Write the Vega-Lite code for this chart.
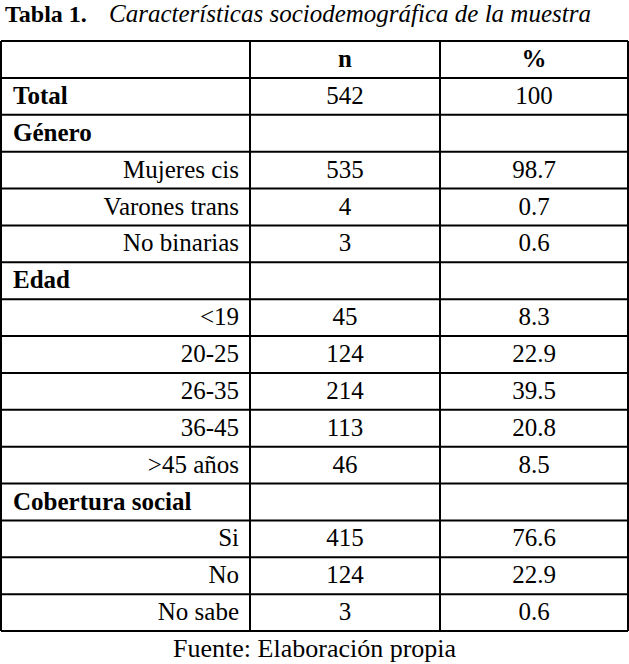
{
  "$schema": "https://vega.github.io/schema/vega-lite/v6.json",
  "description": "Tabla 1. Características sociodemográfica de la muestra",
  "width": 629,
  "height": 664,
  "autosize": {"type": "none"},
  "padding": 0,
  "background": "white",
  "datasets": {
    "filas": [
      {"orden": 1, "etiqueta": "Total", "tipo": "seccion", "n": "542", "pct": "100"},
      {"orden": 2, "etiqueta": "Género", "tipo": "seccion", "n": "", "pct": ""},
      {"orden": 3, "etiqueta": "Mujeres cis", "tipo": "item", "n": "535", "pct": "98.7"},
      {"orden": 4, "etiqueta": "Varones trans", "tipo": "item", "n": "4", "pct": "0.7"},
      {"orden": 5, "etiqueta": "No binarias", "tipo": "item", "n": "3", "pct": "0.6"},
      {"orden": 6, "etiqueta": "Edad", "tipo": "seccion", "n": "", "pct": ""},
      {"orden": 7, "etiqueta": "<19", "tipo": "item", "n": "45", "pct": "8.3"},
      {"orden": 8, "etiqueta": "20-25", "tipo": "item", "n": "124", "pct": "22.9"},
      {"orden": 9, "etiqueta": "26-35", "tipo": "item", "n": "214", "pct": "39.5"},
      {"orden": 10, "etiqueta": "36-45", "tipo": "item", "n": "113", "pct": "20.8"},
      {"orden": 11, "etiqueta": ">45 años", "tipo": "item", "n": "46", "pct": "8.5"},
      {"orden": 12, "etiqueta": "Cobertura social", "tipo": "seccion", "n": "", "pct": ""},
      {"orden": 13, "etiqueta": "Si", "tipo": "item", "n": "415", "pct": "76.6"},
      {"orden": 14, "etiqueta": "No", "tipo": "item", "n": "124", "pct": "22.9"},
      {"orden": 15, "etiqueta": "No sabe", "tipo": "item", "n": "3", "pct": "0.6"}
    ],
    "cabecera": [
      {"col": 1.5, "texto": "n"},
      {"col": 2.5, "texto": "%"}
    ],
    "lineasH": [
      {"fila": 0}, {"fila": 1}, {"fila": 2}, {"fila": 3}, {"fila": 4},
      {"fila": 5}, {"fila": 6}, {"fila": 7}, {"fila": 8}, {"fila": 9},
      {"fila": 10}, {"fila": 11}, {"fila": 12}, {"fila": 13}, {"fila": 14},
      {"fila": 15}, {"fila": 16}
    ],
    "lineasV": [
      {"col": 0}, {"col": 1}, {"col": 2}, {"col": 3}
    ]
  },
  "layer": [
    {
      "data": {"name": "lineasH"},
      "mark": {"type": "rule", "color": "black", "strokeWidth": 2},
      "encoding": {
        "x": {"datum": 0, "type": "quantitative", "scale": {"domain": [0, 1, 2, 3], "range": [1, 250, 440, 628]}, "axis": null},
        "x2": {"datum": 3},
        "y": {"field": "fila", "type": "quantitative", "scale": {"domain": [0, 16], "range": [41, 631]}, "axis": null}
      }
    },
    {
      "data": {"name": "lineasV"},
      "mark": {"type": "rule", "color": "black", "strokeWidth": 2},
      "encoding": {
        "x": {"field": "col", "type": "quantitative"},
        "y": {"datum": 0, "type": "quantitative"},
        "y2": {"datum": 16}
      }
    },
    {
      "data": {"name": "cabecera"},
      "mark": {"type": "text", "fontWeight": "bold", "baseline": "middle", "align": "center"},
      "encoding": {
        "x": {"field": "col", "type": "quantitative"},
        "y": {"datum": 0.5, "type": "quantitative"},
        "text": {"field": "texto"}
      }
    },
    {
      "data": {"name": "filas"},
      "transform": [{"filter": "datum.tipo === 'seccion'"}],
      "mark": {"type": "text", "fontWeight": "bold", "baseline": "middle", "align": "left", "dx": 12},
      "encoding": {
        "x": {"datum": 0, "type": "quantitative"},
        "y": {"field": "orden", "type": "quantitative"},
        "yOffset": {"value": 18},
        "text": {"field": "etiqueta"}
      }
    },
    {
      "data": {"name": "filas"},
      "transform": [{"filter": "datum.tipo === 'item'"}],
      "mark": {"type": "text", "baseline": "middle", "align": "right", "dx": -11},
      "encoding": {
        "x": {"datum": 1, "type": "quantitative"},
        "y": {"field": "orden", "type": "quantitative"},
        "yOffset": {"value": 18},
        "text": {"field": "etiqueta"}
      }
    },
    {
      "data": {"name": "filas"},
      "mark": {"type": "text", "baseline": "middle", "align": "center"},
      "encoding": {
        "x": {"datum": 1.5, "type": "quantitative"},
        "y": {"field": "orden", "type": "quantitative"},
        "yOffset": {"value": 18},
        "text": {"field": "n"}
      }
    },
    {
      "data": {"name": "filas"},
      "mark": {"type": "text", "baseline": "middle", "align": "center"},
      "encoding": {
        "x": {"datum": 2.5, "type": "quantitative"},
        "y": {"field": "orden", "type": "quantitative"},
        "yOffset": {"value": 18},
        "text": {"field": "pct"}
      }
    },
    {
      "data": {"values": [{"texto": "Tabla 1."}]},
      "mark": {"type": "text", "fontWeight": "bold", "fontSize": 24, "baseline": "alphabetic", "align": "left", "dx": 4},
      "encoding": {
        "x": {"datum": 0, "type": "quantitative"},
        "y": {"datum": -0.52, "type": "quantitative"},
        "text": {"field": "texto"}
      }
    },
    {
      "data": {"values": [{"texto": "Características sociodemográfica de la muestra"}]},
      "mark": {"type": "text", "fontStyle": "italic", "fontSize": 25, "baseline": "alphabetic", "align": "left", "dx": 108},
      "encoding": {
        "x": {"datum": 0, "type": "quantitative"},
        "y": {"datum": -0.52, "type": "quantitative"},
        "text": {"field": "texto"}
      }
    },
    {
      "data": {"values": [{"texto": "Fuente: Elaboración propia"}]},
      "mark": {"type": "text", "fontSize": 26, "baseline": "middle", "align": "center"},
      "encoding": {
        "x": {"datum": 1.34, "type": "quantitative"},
        "y": {"datum": 16.48, "type": "quantitative"},
        "text": {"field": "texto"}
      }
    }
  ],
  "config": {
    "view": {"stroke": null},
    "text": {"font": "Liberation Serif, Tinos, Times New Roman, Times, Noto Serif, DejaVu Serif, serif", "fontSize": 25, "color": "black"}
  }
}
